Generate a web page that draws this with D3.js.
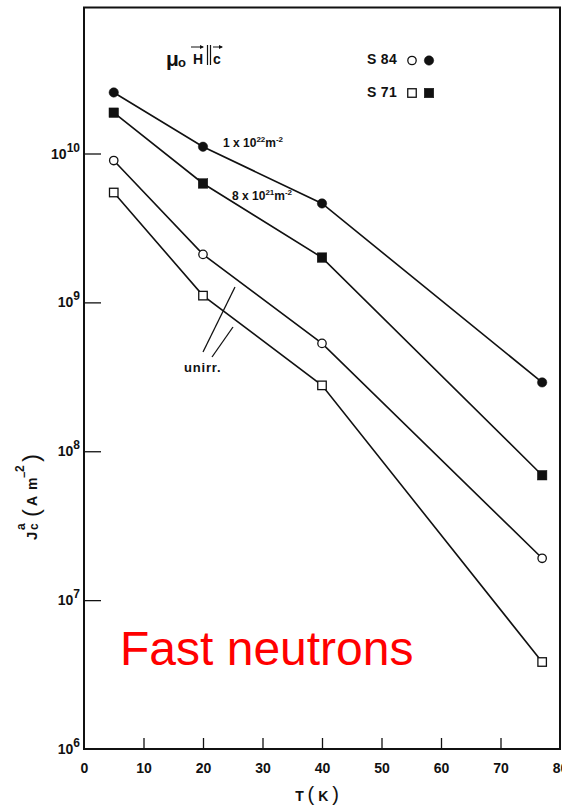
<!DOCTYPE html>
<html>
<head>
<meta charset="utf-8">
<script src="https://cdn.jsdelivr.net/npm/d3@7"></script>
<style>
  body { margin: 0; background: #fff; }
  svg { display: block; }
  text { font-family: "Liberation Sans", Arial, Helvetica, sans-serif; fill: #111; }
</style>
</head>
<body>
<svg id="chart" width="562" height="806"></svg>
<script>
// Temperature (K) at which Jc was measured
const temperatures = [5, 20, 40, 77];

// Critical current density Jc^a (A m^-2)
const s84Irradiated = [2.57e10, 1.11e10, 4.62e9, 2.9e8];   // S 84, 1 x 10^22 m^-2
const s71Irradiated = [1.88e10, 6.29e9, 2.0e9, 6.9e7];     // S 71, 8 x 10^21 m^-2
const s84Unirradiated = [8.97e9, 2.10e9, 5.3e8, 1.91e7];   // S 84, unirr.
const s71Unirradiated = [5.47e9, 1.11e9, 2.77e8, 3.84e6];  // S 71, unirr.

const xTickValues = [0, 10, 20, 30, 40, 50, 60, 70, 80];
const yTickExponents = [6, 7, 8, 9, 10];

const series = [
  { values: s84Irradiated, shape: "circle", filled: true },
  { values: s71Irradiated, shape: "square", filled: true },
  { values: s84Unirradiated, shape: "circle", filled: false },
  { values: s71Unirradiated, shape: "square", filled: false }
];

const svg = d3.select("#chart");
const frame = { left: 84, right: 560, top: 7.5, bottom: 749 };

const x = d3.scaleLinear().domain([0, 80]).range([frame.left, frame.right]);
const y = d3.scaleLog().domain([1e6, 1e10]).range([frame.bottom, 153.5]);

// Plot frame
svg.append("rect")
  .attr("x", frame.left).attr("y", frame.top)
  .attr("width", frame.right - frame.left).attr("height", frame.bottom - frame.top)
  .attr("fill", "none").attr("stroke", "#111").attr("stroke-width", 2);

// X axis: ticks pointing into the plot
const xAxis = svg.append("g")
  .attr("transform", `translate(0,${frame.bottom})`)
  .call(d3.axisBottom(x).tickValues(xTickValues).tickSize(-11).tickPadding(14).tickFormat(d3.format("d")));
xAxis.select(".domain").remove();
xAxis.selectAll(".tick line").attr("stroke", "#111").attr("stroke-width", 1.3);
xAxis.selectAll(".tick text")
  .style("font-family", '"Liberation Sans", Arial, sans-serif')
  .style("font-size", "14px").style("font-weight", "bold").attr("fill", "#111");
xAxis.selectAll(".tick").filter(d => d === 0 || d === 80).select("line").remove();

// Y axis: decade ticks pointing into the plot
const yAxis = svg.append("g")
  .attr("transform", `translate(${frame.left},0)`)
  .call(d3.axisLeft(y).tickValues(yTickExponents.map(e => Math.pow(10, e))).tickSize(-17).tickFormat(""));
yAxis.select(".domain").remove();
yAxis.selectAll(".tick line").attr("stroke", "#111").attr("stroke-width", 1.3);
yAxis.selectAll(".tick").filter(d => d === 1e6).select("line").remove();

// Decade labels 10^n
const yLabels = svg.append("g");
yTickExponents.forEach(e => {
  const t = yLabels.append("text")
    .attr("x", 80).attr("y", y(Math.pow(10, e)) + 5)
    .attr("text-anchor", "end")
    .style("font-size", "14px").style("font-weight", "bold");
  t.append("tspan").text("10");
  t.append("tspan").attr("dy", -7).style("font-size", "12px").text(e);
});

// Axis titles
svg.append("text")
  .attr("x", 317).attr("y", 801)
  .attr("text-anchor", "middle")
  .style("font-size", "14px").style("font-weight", "bold")
  .html('T <tspan style="font-size:20px;font-weight:normal">(</tspan> K <tspan style="font-size:20px;font-weight:normal">)</tspan>');

const yTitle = svg.append("g").attr("transform", "translate(37,540) rotate(-90)");
yTitle.append("text").attr("x", 0).attr("y", 0).style("font-size", "15px").style("font-weight", "bold").text("J");
yTitle.append("text").attr("x", 10).attr("y", 1).style("font-size", "12px").style("font-weight", "bold").text("c");
yTitle.append("text").attr("x", 10).attr("y", -12).style("font-size", "12px").style("font-weight", "bold").text("a");
yTitle.append("text").attr("x", 23).attr("y", 2).style("font-size", "24px").text("(");
yTitle.append("text").attr("x", 34).attr("y", 0).style("font-size", "14px").style("font-weight", "bold").text("A");
yTitle.append("text").attr("x", 50).attr("y", 0).style("font-size", "14px").style("font-weight", "bold").text("m");
yTitle.append("text").attr("x", 62).attr("y", -9).style("font-size", "11px").style("font-weight", "bold").text("−");
yTitle.append("text").attr("x", 68).attr("y", -13).style("font-size", "12px").style("font-weight", "bold").text("2");
yTitle.append("text").attr("x", 78).attr("y", 2).style("font-size", "24px").text(")");

// Series lines
const line = d3.line().x((d, i) => x(temperatures[i])).y(d => y(d));
svg.append("g").selectAll("path")
  .data(series)
  .join("path")
  .attr("d", s => line(s.values))
  .attr("fill", "none").attr("stroke", "#111").attr("stroke-width", 1.6);

// Markers
function drawMarker(g, shape, filled, cx, cy) {
  if (shape === "circle") {
    g.append("circle").attr("cx", cx).attr("cy", cy)
      .attr("r", filled ? 4.7 : 4.2)
      .attr("fill", filled ? "#111" : "#fff")
      .attr("stroke", "#111").attr("stroke-width", filled ? 0.5 : 1.3);
  } else {
    const s = filled ? 9.5 : 8.5;
    g.append("rect").attr("x", cx - s / 2).attr("y", cy - s / 2)
      .attr("width", s).attr("height", s)
      .attr("fill", filled ? "#111" : "#fff")
      .attr("stroke", "#111").attr("stroke-width", filled ? 0.5 : 1.3);
  }
}
const markers = svg.append("g");
series.forEach(s => {
  s.values.forEach((v, i) => drawMarker(markers, s.shape, s.filled, x(temperatures[i]), y(v)));
});

// Fluence annotations
function fluence(xp, yp, mant, exp) {
  const t = svg.append("text").attr("x", xp).attr("y", yp)
    .style("font-size", "12px").style("font-weight", "bold");
  t.append("tspan").text(mant + " x 10");
  t.append("tspan").attr("dy", -5).style("font-size", "8px").text(exp);
  t.append("tspan").attr("dy", 5).text("m");
  t.append("tspan").attr("dy", -5).style("font-size", "8px").text("-2");
}
fluence(223, 147, "1", "22");
fluence(232, 200, "8", "21");

// Unirradiated label with leader lines
svg.append("text").attr("x", 184).attr("y", 372)
  .style("font-size", "13px").style("font-weight", "bold").style("letter-spacing", "0.8px")
  .text("unirr.");
svg.append("line").attr("x1", 235).attr("y1", 287).attr("x2", 203).attr("y2", 352)
  .attr("stroke", "#111").attr("stroke-width", 1.3);
svg.append("line").attr("x1", 233).attr("y1", 327).attr("x2", 212).attr("y2", 357)
  .attr("stroke", "#111").attr("stroke-width", 1.3);

// Field orientation: mu_0 H || c
const field = svg.append("g");
field.append("text").attr("x", 166).attr("y", 66).style("font-size", "21px").style("font-weight", "bold").text("μ");
field.append("text").attr("x", 178).attr("y", 67).style("font-size", "13px").style("font-weight", "bold").text("o");
field.append("text").attr("x", 193).attr("y", 64).style("font-size", "14px").style("font-weight", "bold").text("H");
field.append("text").attr("x", 213).attr("y", 64).style("font-size", "14px").style("font-weight", "bold").text("c");
[207.5, 210.5].forEach(xx => field.append("line")
  .attr("x1", xx).attr("x2", xx).attr("y1", 45).attr("y2", 65)
  .attr("stroke", "#111").attr("stroke-width", 1.2));
function overArrow(x1, x2, yy) {
  field.append("line").attr("x1", x1).attr("x2", x2 - 1).attr("y1", yy).attr("y2", yy)
    .attr("stroke", "#111").attr("stroke-width", 1);
  field.append("path").attr("d", `M${x2},${yy} l-4,-2 l0,4 z`).attr("fill", "#111");
}
overArrow(191, 204, 47);
overArrow(213, 223, 47);

// Sample legend
const legend = svg.append("g");
[["S 84", "circle", 64, 60.5], ["S 71", "square", 97, 93]].forEach(([label, shape, by, my]) => {
  legend.append("text").attr("x", 367).attr("y", by)
    .style("font-size", "14px").style("font-weight", "bold").style("letter-spacing", "0.3px").text(label);
  drawMarker(legend, shape, false, 412, my);
  drawMarker(legend, shape, true, 429, my);
});

// Caption
svg.append("text").attr("x", 120).attr("y", 665)
  .style("font-family", '"Liberation Sans", Arial, sans-serif')
  .style("font-size", "48px").style("fill", "#ff0000")
  .text("Fast neutrons");
</script>
</body>
</html>
